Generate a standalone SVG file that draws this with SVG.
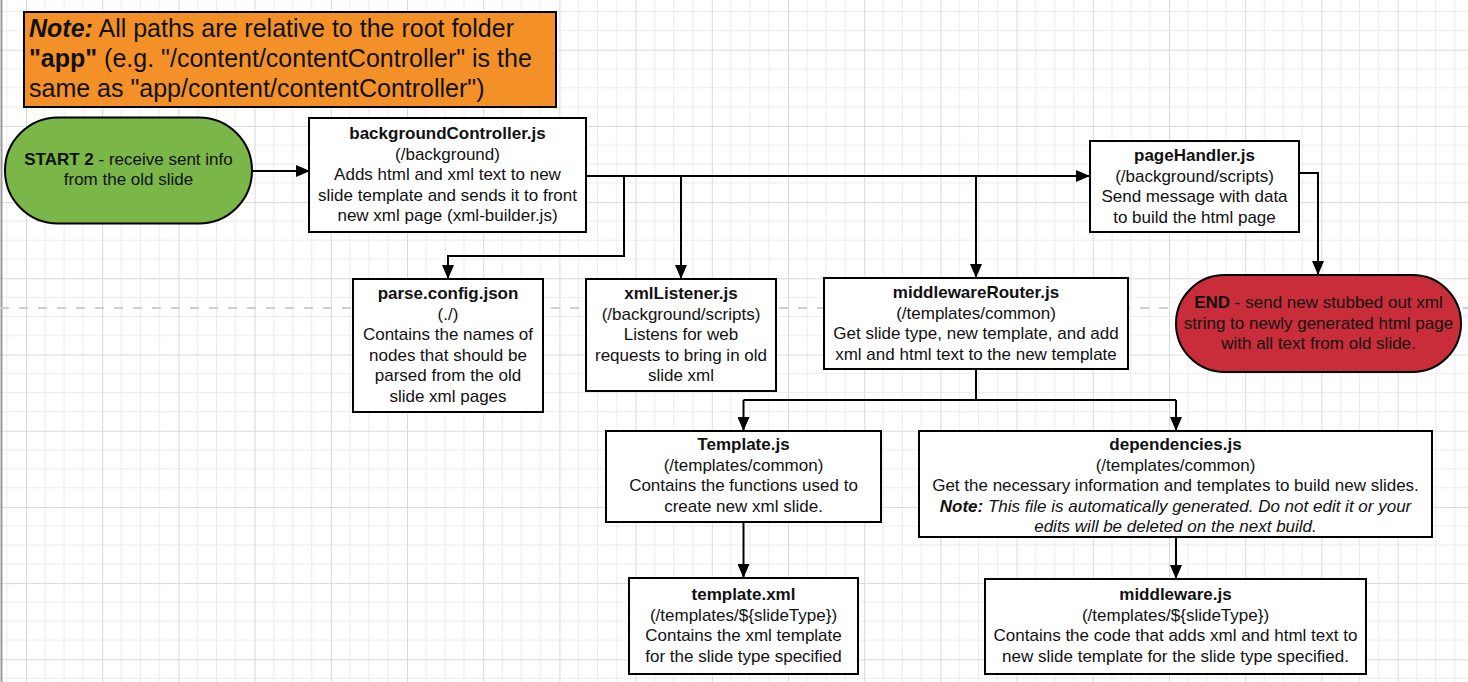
<svg xmlns="http://www.w3.org/2000/svg" width="1468" height="682" viewBox="0 0 1468 682">
<style>
.t{font-family:"Liberation Sans",Arial,sans-serif;font-size:17px;fill:#111;text-anchor:middle}
.b{font-weight:bold}
.i{font-style:italic}
.box{fill:#fff;stroke:#000;stroke-width:2}
.c{fill:none;stroke:#000;stroke-width:2}
.ca{fill:none;stroke:#000;stroke-width:2;marker-end:url(#ah)}
</style>
<defs>
<pattern id="grid" patternUnits="userSpaceOnUse" x="26" y="49.7" width="76.2" height="76.2">
<path d="M19.05 0V76.2M38.1 0V76.2M57.15 0V76.2M0 19.05H76.2M0 38.1H76.2M0 57.15H76.2" stroke="#ebebeb" stroke-width="1" fill="none"/>
<path d="M0.5 0V76.2M0 0.5H76.2" stroke="#d9d9d9" stroke-width="1" fill="none"/>
</pattern>
<marker id="ah" markerUnits="userSpaceOnUse" markerWidth="14" markerHeight="12" refX="14" refY="6" orient="auto">
<path d="M0 0L14 6L0 12z" fill="#000"/>
</marker>
</defs>
<rect width="1468" height="682" fill="#fff"/>
<rect width="1468" height="682" fill="url(#grid)"/>
<line x1="1.5" y1="0" x2="1.5" y2="682" stroke="#999" stroke-width="2"/>
<line x1="0" y1="308" x2="1468" y2="308" stroke="#cfcfcf" stroke-width="2" stroke-dasharray="9 10"/>

<g id="connectors">
<path class="ca" d="M252 171H310"/>
<path class="ca" d="M586 176H1090"/>
<path class="ca" d="M624 176V256H448V279"/>
<path class="ca" d="M681 176V279"/>
<path class="ca" d="M976 176V278"/>
<path class="ca" d="M1299 173H1318V275"/>
<path class="c" d="M976 369V400"/>
<path class="c" d="M743.5 400H1176"/>
<path class="ca" d="M743.5 400V431"/>
<path class="ca" d="M1176 400V431"/>
<path class="ca" d="M743.5 522V578"/>
<path class="ca" d="M1176 537V579"/>
</g>

<g id="note">
<rect x="24" y="12" width="532" height="95" fill="#f39128" stroke="#000" stroke-width="2"/>
<text class="t" style="font-size:25px;text-anchor:start" x="29" y="37"><tspan class="b i">Note:</tspan> All paths are relative to the root folder</text>
<text class="t" style="font-size:25px;text-anchor:start" x="29" y="67"><tspan class="b">"app"</tspan> (e.g. "/content/contentController" is the</text>
<text class="t" style="font-size:25px;text-anchor:start" x="29" y="96.5">same as "app/content/contentController")</text>
</g>

<g id="start">
<rect x="5" y="117.5" width="247" height="106" rx="53" ry="53" fill="#7ab648" stroke="#000" stroke-width="2"/>
<text class="t" x="128.5" y="165"><tspan class="b">START 2</tspan> - receive sent info</text>
<text class="t" x="128.5" y="185">from the old slide</text>
</g>

<g id="backgroundController">
<rect class="box" x="309" y="118" width="277" height="114"/>
<text class="t b" x="447.5" y="139">backgroundController.js</text>
<text class="t" x="447.5" y="159.5">(/background)</text>
<text class="t" x="447.5" y="180">Adds html and xml text to new</text>
<text class="t" x="447.5" y="200.5">slide template and sends it to front</text>
<text class="t" x="447.5" y="221">new xml page (xml-builder.js)</text>
</g>

<g id="pageHandler">
<rect class="box" x="1090" y="141" width="209" height="91"/>
<text class="t b" x="1194.5" y="161">pageHandler.js</text>
<text class="t" x="1194.5" y="181.5">(/background/scripts)</text>
<text class="t" x="1194.5" y="202">Send message with data</text>
<text class="t" x="1194.5" y="222.5">to build the html page</text>
</g>

<g id="end">
<rect x="1176" y="275" width="285" height="97" rx="48.5" ry="48.5" fill="#c92d39" stroke="#000" stroke-width="2"/>
<text class="t" x="1318.5" y="308"><tspan class="b">END</tspan> - send new stubbed out xml</text>
<text class="t" x="1318.5" y="328.5">string to newly generated html page</text>
<text class="t" x="1318.5" y="349">with all text from old slide.</text>
</g>

<g id="parseConfig">
<rect class="box" x="353" y="279" width="190" height="133"/>
<text class="t b" x="448" y="299">parse.config.json</text>
<text class="t" x="448" y="319.5">(./)</text>
<text class="t" x="448" y="340">Contains the names of</text>
<text class="t" x="448" y="360.5">nodes that should be</text>
<text class="t" x="448" y="381">parsed from the old</text>
<text class="t" x="448" y="401.5">slide xml pages</text>
</g>

<g id="xmlListener">
<rect class="box" x="586" y="279" width="190" height="112"/>
<text class="t b" x="681" y="299">xmlListener.js</text>
<text class="t" x="681" y="319.5">(/background/scripts)</text>
<text class="t" x="681" y="340">Listens for web</text>
<text class="t" x="681" y="360.5">requests to bring in old</text>
<text class="t" x="681" y="381">slide xml</text>
</g>

<g id="middlewareRouter">
<rect class="box" x="824" y="278" width="304" height="91"/>
<text class="t b" x="976" y="298">middlewareRouter.js</text>
<text class="t" x="976" y="318.5">(/templates/common)</text>
<text class="t" x="976" y="339">Get slide type, new template, and add</text>
<text class="t" x="976" y="359.5">xml and html text to the new template</text>
</g>

<g id="templateJs">
<rect class="box" x="606" y="431" width="275" height="91"/>
<text class="t b" x="743.5" y="450">Template.js</text>
<text class="t" x="743.5" y="470.5">(/templates/common)</text>
<text class="t" x="743.5" y="491">Contains the functions used to</text>
<text class="t" x="743.5" y="511.5">create new xml slide.</text>
</g>

<g id="dependencies">
<rect class="box" x="919" y="431" width="513" height="106"/>
<text class="t b" x="1175.5" y="450">dependencies.js</text>
<text class="t" x="1175.5" y="470.5">(/templates/common)</text>
<text class="t" x="1175.5" y="491">Get the necessary information and templates to build new slides.</text>
<text class="t i" x="1175.5" y="511.5"><tspan class="b">Note:</tspan> This file is automatically generated. Do not edit it or your</text>
<text class="t i" x="1175.5" y="532">edits will be deleted on the next build.</text>
</g>

<g id="templateXml">
<rect class="box" x="629" y="578" width="229" height="96"/>
<text class="t b" x="743.5" y="600">template.xml</text>
<text class="t" x="743.5" y="620.7">(/templates/${slideType})</text>
<text class="t" x="743.5" y="641.4">Contains the xml template</text>
<text class="t" x="743.5" y="662">for the slide type specified</text>
</g>

<g id="middleware">
<rect class="box" x="985" y="579" width="381" height="95"/>
<text class="t b" x="1175.5" y="600">middleware.js</text>
<text class="t" x="1175.5" y="620.7">(/templates/${slideType})</text>
<text class="t" x="1175.5" y="641.4">Contains the code that adds xml and html text to</text>
<text class="t" x="1175.5" y="662">new slide template for the slide type specified.</text>
</g>
</svg>
